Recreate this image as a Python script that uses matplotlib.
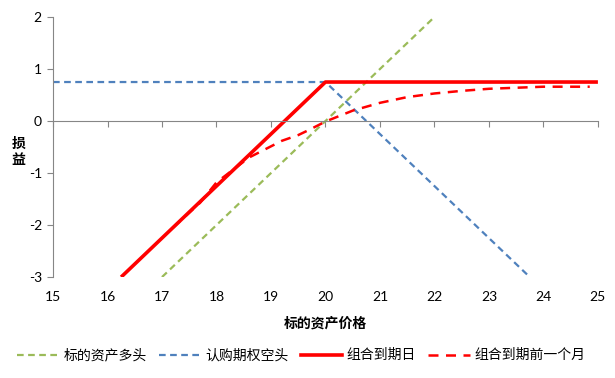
import matplotlib.pyplot as plt
from matplotlib.lines import Line2D
import matplotlib.transforms as mtransforms

plt.rcParams['font.family'] = ['Lato', 'Noto Sans CJK SC', 'DejaVu Sans']
plt.rcParams['axes.unicode_minus'] = False

# data
stock_x = [17, 22]
stock_y = [-3, 2]

call_x = [15, 20, 23.75]
call_y = [0.75, 0.75, -3]

expiry_x = [16.25, 20, 25]
expiry_y = [-3, 0.75, 0.75]

month_x = [17.2, 17.7, 18.0, 18.6, 19.2, 19.5, 19.7, 20.0, 20.5, 21.0, 21.5, 22.0, 22.5, 23.0, 23.5, 24.0, 24.5, 24.85]
month_y = [-2.05, -1.57, -1.18, -0.70, -0.38, -0.27, -0.17, -0.01, 0.20, 0.35, 0.46, 0.53, 0.58, 0.62, 0.64, 0.66, 0.66, 0.66]

x_ticks = [15, 16, 17, 18, 19, 20, 21, 22, 23, 24, 25]
y_ticks = [-3, -2, -1, 0, 1, 2]

labels = ['标的资产多头', '认购期权空头', '组合到期日', '组合到期前一个月']

fig = plt.figure(figsize=(6.15, 3.78), dpi=100)
ax = fig.add_axes([0.0862, 0.267, 0.886, 0.688])

ax.plot(stock_x, stock_y, color='#9BBB59', lw=1.6, dashes=(3, 2))
ax.plot(call_x, call_y, color='#4F81BD', lw=1.6, dashes=(3, 2))
ax.plot(expiry_x, expiry_y, color='#FF0000', lw=2.6, solid_capstyle='butt')
ax.plot(month_x, month_y, color='#FF0000', lw=1.8, dashes=(4, 3))

ax.set_xlim(15, 25)
ax.set_ylim(-3, 2)

for s in ['top', 'right']:
    ax.spines[s].set_visible(False)
ax.spines['left'].set_color('#868686')
ax.spines['bottom'].set_color('#868686')
ax.spines['bottom'].set_position(('data', 0))

ax.set_xticks(x_ticks)
ax.set_yticks(y_ticks)
ax.tick_params(axis='x', direction='out', length=4, color='#868686', labelbottom=False)
ax.tick_params(axis='y', direction='out', length=4, color='#868686', labelsize=10, pad=4)

# x tick labels sit at the bottom of the plot (Excel "low" position)
trans = mtransforms.blended_transform_factory(ax.transData, ax.transAxes)
for t in x_ticks:
    ax.text(t, -0.055, str(t), transform=trans, ha='center', va='top', fontsize=10)

ax.text(0.5, -0.15, '标的资产价格', transform=ax.transAxes, ha='center', va='top',
        fontsize=10, fontweight='bold')
fig.text(0.03, 0.60, '损\n益', ha='center', va='center', fontsize=10,
         fontweight='bold', linespacing=1.3)

handles = [
    Line2D([], [], color='#9BBB59', lw=1.6, dashes=(3, 2)),
    Line2D([], [], color='#4F81BD', lw=1.6, dashes=(3, 2)),
    Line2D([], [], color='#FF0000', lw=2.6),
    Line2D([], [], color='#FF0000', lw=1.8, dashes=(4, 3)),
]
fig.legend(handles, labels, loc='center', bbox_to_anchor=(0.49, 0.062), ncol=4,
           frameon=False, fontsize=10, handlelength=3.0, handletextpad=0.3,
           columnspacing=0.9)

fig.savefig('out.png', dpi=100)
